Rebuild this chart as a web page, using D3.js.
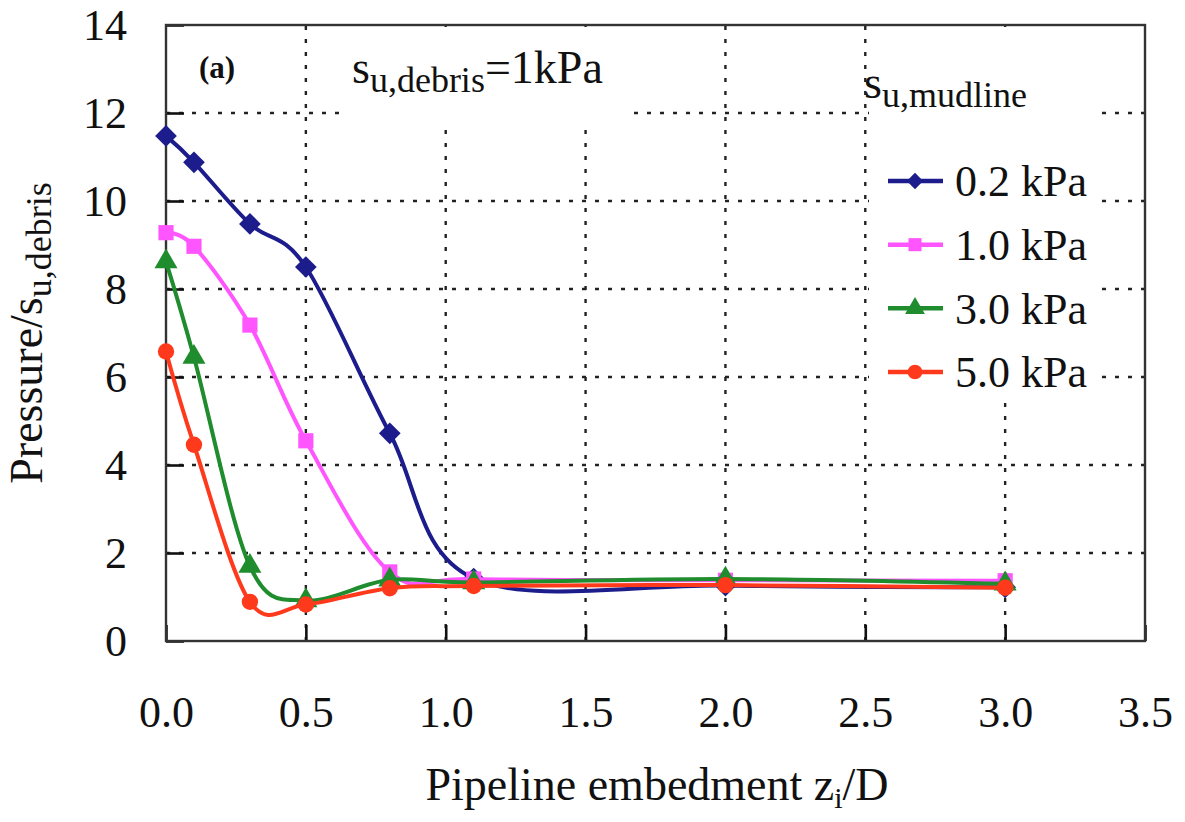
<!DOCTYPE html>
<html>
<head>
<meta charset="utf-8">
<script src="https://cdn.jsdelivr.net/npm/d3@7"></script>
<style>
  body { margin: 0; background: #fff; }
  text { font-family: "Liberation Serif", "Times New Roman", serif; fill: #111; }
</style>
</head>
<body>
<svg id="chart" width="1185" height="822"></svg>
<script>
// embedment z_i/D where pressures were sampled
var embed = [0.0, 0.1, 0.3, 0.5, 0.8, 1.1, 2.0, 3.0]

// pressure / s_u,debris for each mudline strength
var p02 = [11.48, 10.88, 9.48, 8.5, 4.72, 1.42, 1.26, 1.22]
var p10 = [9.28, 8.97, 7.18, 4.55, 1.57, 1.41, 1.38, 1.37]
var p30 = [8.62, 6.45, 1.7, 0.92, 1.39, 1.33, 1.41, 1.3]
var p50 = [6.58, 4.46, 0.89, 0.83, 1.2, 1.25, 1.27, 1.21]

var seriesNames = ['0.2 kPa', '1.0 kPa', '3.0 kPa', '5.0 kPa']
var seriesVals = [p02, p10, p30, p50]
var seriesColors = ['#1c1c8c', '#ff55ff', '#1f8c2e', '#ff3a1c']
var seriesMarks = [d3.symbolDiamond2, d3.symbolSquare, d3.symbolTriangle, d3.symbolCircle]
var markSizes = [300, 230, 230, 210]

var xTicks = [0, 0.5, 1.0, 1.5, 2.0, 2.5, 3.0, 3.5]
var yTicks = [0, 2, 4, 6, 8, 10, 12, 14]

var svg = d3.select('#chart')

var x = d3.scaleLinear().domain([0, 3.5]).range([166, 1145]),
	y = d3.scaleLinear().domain([0, 14]).range([641, 25])

// dotted grid
var grid = svg.append('g').attr('stroke', '#222').attr('stroke-width', 2.4).attr('stroke-dasharray', '4,9')
grid.selectAll('.gx')
	.data(xTicks.filter(function(t) {return t > 0 && t < 3.5}))
	.enter().append('line')
	.attr('x1', function(t) {return x(t)}).attr('x2', function(t) {return x(t)})
	.attr('y1', y(0)).attr('y2', y(14))
grid.selectAll('.gy')
	.data(yTicks.filter(function(t) {return t > 0 && t < 14}))
	.enter().append('line')
	.attr('y1', function(t) {return y(t)}).attr('y2', function(t) {return y(t)})
	.attr('x1', x(0)).attr('x2', x(3.5))

// white boxes behind the note and the legend
svg.append('rect').attr('x', 348).attr('y', 27).attr('width', 282).attr('height', 98).attr('fill', '#fff')
svg.append('rect').attr('x', 869).attr('y', 27).attr('width', 231).attr('height', 368).attr('fill', '#fff')

// axes with inward ticks
var xAxis = svg.append('g')
	.attr('transform', 'translate(0,' + y(0) + ')')
	.call(d3.axisBottom(x).tickValues(xTicks).tickFormat(d3.format('.1f')).tickSize(-16).tickPadding(55))
var yAxis = svg.append('g')
	.attr('transform', 'translate(' + x(0) + ',0)')
	.call(d3.axisLeft(y).tickValues(yTicks).tickFormat(d3.format('d')).tickSize(-18).tickPadding(39))
;[xAxis, yAxis].forEach(function(a) {
	a.select('.domain').remove()
	a.selectAll('.tick line').attr('stroke', '#111').attr('stroke-width', 2.6)
	a.selectAll('.tick text').attr('font-size', 44).attr('fill', '#111')
		.style('font-family', '"Liberation Serif", serif')
})

// frame
svg.append('rect')
	.attr('x', x(0)).attr('y', y(14))
	.attr('width', x(3.5) - x(0)).attr('height', y(0) - y(14))
	.attr('fill', 'none').attr('stroke', '#333').attr('stroke-width', 2.4)

// smoothed curves + markers
var line = d3.line()
	.x(function(d) {return x(d[0])})
	.y(function(d) {return y(d[1])})
	.curve(d3.curveCatmullRom.alpha(0))

seriesVals.forEach(function(vals, i) {
	var pts = embed.map(function(e, k) {return [e, vals[k]]})
	var g = svg.append('g')
	g.append('path')
		.attr('d', line(pts))
		.attr('fill', 'none')
		.attr('stroke', seriesColors[i])
		.attr('stroke-width', 4)
	g.selectAll('path.mk')
		.data(pts)
		.enter().append('path')
		.attr('class', 'mk')
		.attr('transform', function(d) {return 'translate(' + x(d[0]) + ',' + y(d[1]) + ')'})
		.attr('d', d3.symbol().type(seriesMarks[i]).size(markSizes[i]))
		.attr('fill', seriesColors[i])
})

// axis titles
svg.append('text')
	.attr('x', 657).attr('y', 800)
	.attr('text-anchor', 'middle').attr('font-size', 46)
	.call(function(t) {
		t.append('tspan').text('Pipeline embedment z')
		t.append('tspan').attr('font-size', 30).attr('dy', 8).text('i')
		t.append('tspan').attr('dy', -8).text('/D')
	})

svg.append('text')
	.attr('transform', 'translate(42,333) rotate(-90)')
	.attr('text-anchor', 'middle').attr('font-size', 46)
	.call(function(t) {
		t.append('tspan').text('Pressure/s')
		t.append('tspan').attr('font-size', 36).attr('dy', 9).text('u,debris')
	})

// panel label and note
svg.append('text')
	.attr('x', 199).attr('y', 78)
	.attr('font-size', 31).attr('font-weight', 'bold')
	.style('font-family', '"Liberation Serif", serif')
	.text('(a)')

svg.append('text')
	.attr('x', 352).attr('y', 83).attr('font-size', 46)
	.call(function(t) {
		t.append('tspan').text('s')
		t.append('tspan').attr('font-size', 36).attr('dy', 9).text('u,debris')
		t.append('tspan').attr('dy', -9).text('=1kPa')
	})

// legend
var lg = svg.append('g')
lg.append('text')
	.attr('x', 864).attr('y', 98).attr('font-size', 46)
	.call(function(t) {
		t.append('tspan').text('s')
		t.append('tspan').attr('font-size', 36).attr('dy', 9).text('u,mudline')
	})

var rowY = d3.scaleLinear().domain([0, 3]).range([181, 372])
seriesNames.forEach(function(name, i) {
	var cy = rowY(i)
	lg.append('line')
		.attr('x1', 888).attr('x2', 943).attr('y1', cy).attr('y2', cy)
		.attr('stroke', seriesColors[i]).attr('stroke-width', 4.5)
	lg.append('path')
		.attr('transform', 'translate(915,' + cy + ')')
		.attr('d', d3.symbol().type(seriesMarks[i]).size(170))
		.attr('fill', seriesColors[i])
	lg.append('text')
		.attr('x', 955).attr('y', cy).attr('dy', '0.35em')
		.attr('font-size', 44)
		.text(name)
})
</script>
</body>
</html>
